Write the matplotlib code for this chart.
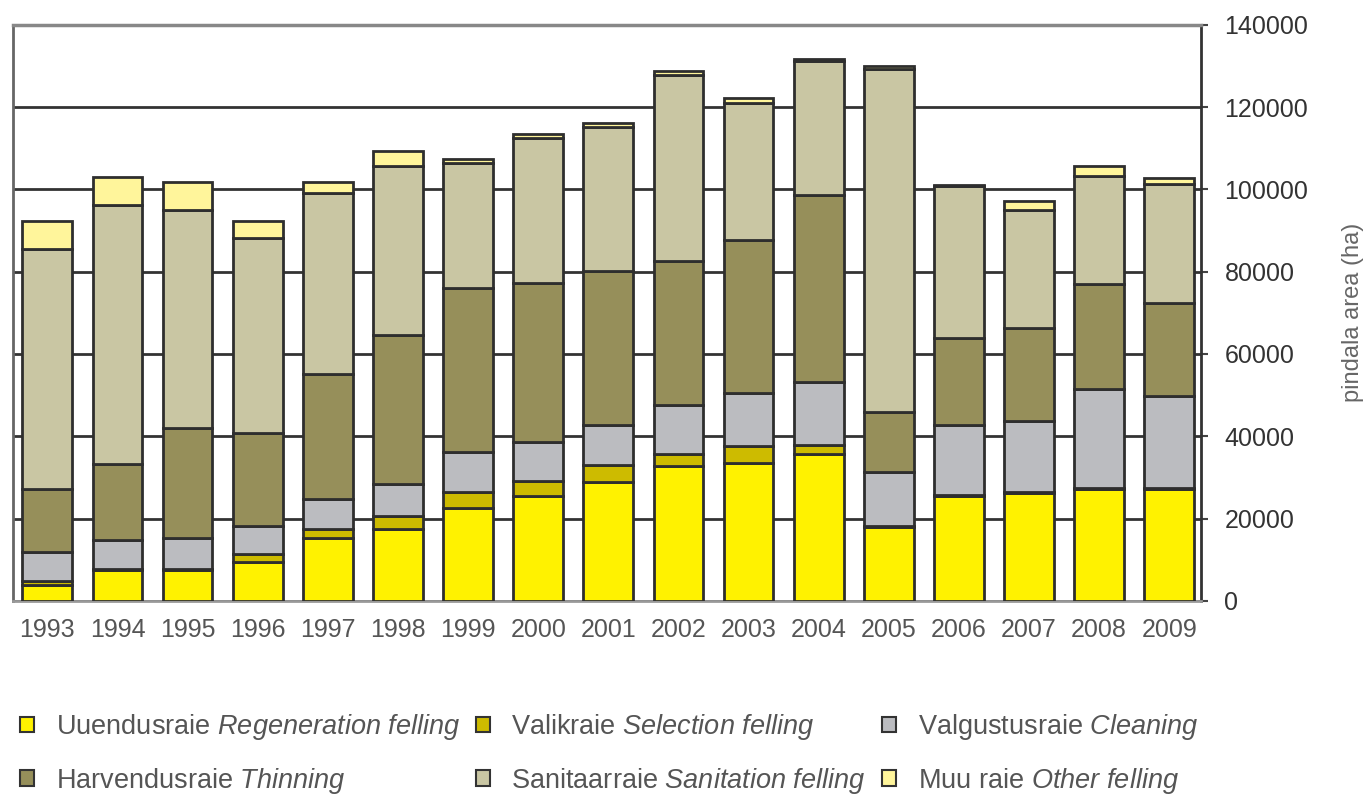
import numpy as np
import matplotlib
matplotlib.use("Agg")
import matplotlib.pyplot as plt
from matplotlib.patches import Patch

plt.rcParams['font.family'] = ['Liberation Sans', 'DejaVu Sans']
plt.rcParams['mathtext.fontset'] = 'custom'
plt.rcParams['mathtext.rm'] = 'Liberation Sans'
plt.rcParams['mathtext.it'] = 'Liberation Sans:italic'

years = [str(y) for y in range(1993, 2010)]

# areas in ha
regeneration = [3800, 7500, 7500, 9500, 15400, 17400, 22700, 25400, 29000, 32900,
                33600, 35700, 18000, 25500, 26300, 27200, 27200]
selection = [1000, 300, 300, 2000, 2100, 3200, 3700, 3800, 4100, 2800,
             4100, 2100, 200, 300, 200, 200, 200]
cleaning = [7100, 6900, 7400, 6600, 7200, 7900, 9700, 9500, 9700, 11900,
            12900, 15500, 13200, 17000, 17100, 24100, 22300]
thinning = [15400, 18500, 26900, 22800, 30500, 36200, 39900, 38500, 37300, 35000,
            37000, 45400, 14400, 21100, 22700, 25400, 22600]
sanitation = [58100, 63100, 52800, 47300, 43900, 40900, 30400, 35300, 35000, 45300,
              33400, 32400, 83500, 36800, 28800, 26300, 28900]
other = [6800, 6800, 6900, 4000, 2600, 3600, 1000, 900, 1000, 900,
         1300, 600, 600, 400, 2000, 2400, 1600]

labels = [
    r'Uuendusraie $\it{Regeneration\ felling}$',
    r'Valikraie $\it{Selection\ felling}$',
    r'Valgustusraie $\it{Cleaning}$',
    r'Harvendusraie $\it{Thinning}$',
    r'Sanitaarraie $\it{Sanitation\ felling}$',
    r'Muu raie $\it{Other\ felling}$',
]
colors = ['#FFF200', '#CDBB00', '#BBBCC0', '#968F5A', '#C9C6A3', '#FFF59B']
series = [regeneration, selection, cleaning, thinning, sanitation, other]

fig = plt.figure(figsize=(13.7, 7.97), dpi=100)
ax = fig.add_axes([0.0095, 0.246, 0.867, 0.723])

x = np.arange(len(years))
bottom = np.zeros(len(years))
handles = []
for vals, col, lab in zip(series, colors, labels):
    ax.bar(x, vals, 0.71, bottom=bottom, color=col, edgecolor='#2e2e2e',
           linewidth=2, zorder=3)
    bottom += np.array(vals)
    handles.append(Patch(facecolor=col, edgecolor='#333333', linewidth=1.5, label=lab))

ax.set_xlim(-0.49, 16.45)
ax.set_ylim(0, 140000)
ax.set_yticks(np.arange(0, 140001, 20000))
ax.yaxis.tick_right()
ax.yaxis.set_label_position('right')
ax.tick_params(axis='y', labelsize=18, colors='#444444', length=5, width=1.5,
               pad=12, labelcolor='#333333')
ax.set_xticks(x)
ax.set_xticklabels(years)
ax.tick_params(axis='x', labelsize=18, labelcolor='#555555', length=0, pad=12)
ax.grid(axis='y', color='#333333', linewidth=2, zorder=0)
ax.set_axisbelow(True)

for side, c in [('top', '#888888'), ('left', '#666666'), ('right', '#333333'),
                ('bottom', '#999999')]:
    ax.spines[side].set_color(c)
    ax.spines[side].set_linewidth(2.5 if side == 'top' else 2)

ax.set_ylabel('pindala area (ha)', fontsize=17, color='#666666', labelpad=24)

# legend filled row by row
order = [0, 3, 1, 4, 2, 5]
fig.legend([handles[i] for i in order], [labels[i] for i in order], ncol=3,
           loc='lower left', bbox_to_anchor=(0.007, -0.012), frameon=False,
           borderaxespad=0, fontsize=19.5, labelcolor='#555555', handlelength=0.5,
           handleheight=0.5, handletextpad=0.8, columnspacing=0.6, labelspacing=0.88)

fig.savefig('out.png', dpi=100)
